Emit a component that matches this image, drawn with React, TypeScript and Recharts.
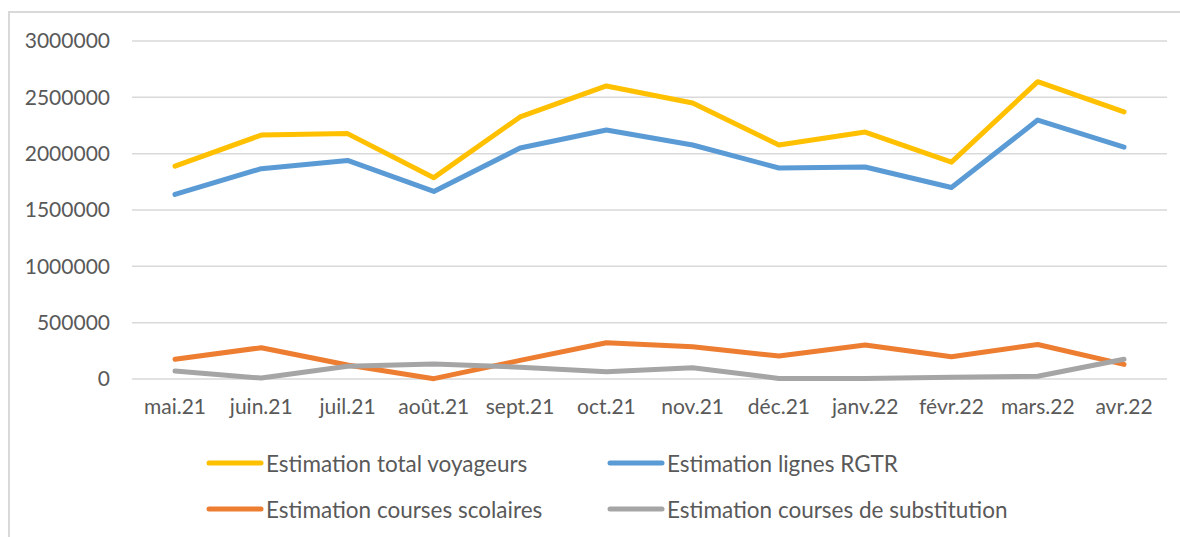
import { LineChart, Line, XAxis, YAxis, CartesianGrid } from "recharts"

const months = ["mai.21", "juin.21", "juil.21", "août.21", "sept.21", "oct.21", "nov.21", "déc.21", "janv.22", "févr.22", "mars.22", "avr.22"]

const totalVoyageurs = [1890000, 2165000, 2178000, 1787000, 2326000, 2601000, 2450000, 2077000, 2192000, 1925000, 2639000, 2370000]
const lignesRGTR = [1638000, 1867000, 1940000, 1665000, 2050000, 2210000, 2077000, 1873000, 1882000, 1700000, 2298000, 2058000]
const coursesScolaires = [175000, 278000, 124000, 3000, 165000, 322000, 287000, 204000, 302000, 198000, 306000, 130000]
const coursesSubstitution = [71000, 8000, 113000, 133000, 105000, 65000, 100000, 5000, 5000, 15000, 25000, 175000]

const yTicks = [0, 500000, 1000000, 1500000, 2000000, 2500000, 3000000]

const series = [
  { key: "total", name: "Estimation total voyageurs", color: "#FFC000", values: totalVoyageurs },
  { key: "rgtr", name: "Estimation lignes RGTR", color: "#5B9BD5", values: lignesRGTR },
  { key: "scolaires", name: "Estimation courses scolaires", color: "#ED7D31", values: coursesScolaires },
  { key: "substitution", name: "Estimation courses de substitution", color: "#A5A5A5", values: coursesSubstitution },
]

const data = months.map((m, i) => {
  const row: Record<string, string | number> = { month: m }
  series.forEach((s) => {
    row[s.key] = s.values[i]
  })
  return row
})

const FONT = "Lato, 'Open Sans', sans-serif"
const TEXT = "#595959"
const FONT_SIZE = 21

// legend laid out like Excel: 2 columns, 2 rows
function ExcelLegend() {
  const cols = [206, 607]
  const rows = [463, 509]
  return (
    <>
      {series.map((s, i) => (
        <div
          key={s.key}
          style={{
            position: "absolute",
            left: cols[i % 2],
            top: rows[Math.floor(i / 2)] - 14,
            height: 28,
            display: "flex",
            alignItems: "center",
            whiteSpace: "nowrap",
          }}
        >
          <svg width={58} height={8} style={{ display: "block" }}>
            <line x1={3} y1={4} x2={55} y2={4} stroke={s.color} strokeWidth={5} strokeLinecap="round" />
          </svg>
          <span style={{ fontFamily: FONT, fontSize: 22.5, color: TEXT, marginLeft: 2 }}>{s.name}</span>
        </div>
      ))}
    </>
  )
}

export default function App() {
  return (
    <div style={{ position: "absolute", left: 0, top: 0, width: 1180, height: 537, background: "#fff", overflow: "hidden" }}>
      <div
        style={{
          position: "absolute",
          left: 8,
          top: 11,
          width: 1180,
          height: 540,
          borderLeft: "2px solid #d9d9d9",
          borderTop: "2px solid #d9d9d9",
        }}
      />
      <LineChart
        width={1180}
        height={537}
        data={data}
        margin={{ top: 41, right: 13, bottom: 128, left: 0 }}
        style={{ position: "absolute", left: 0, top: 0 }}
      >
        <CartesianGrid vertical={false} stroke="#d9d9d9" strokeWidth={1.5} />
        <XAxis
          dataKey="month"
          height={30}
          axisLine={false}
          tickLine={false}
          tickMargin={14}
          interval={0}
          padding={{ left: 43, right: 43 }}
          tick={{ fill: TEXT, fontSize: FONT_SIZE, fontFamily: FONT }}
        />
        <YAxis
          width={132}
          domain={[0, 3000000]}
          ticks={yTicks}
          axisLine={false}
          tickLine={false}
          tickMargin={16}
          tick={{ fill: TEXT, fontSize: FONT_SIZE, fontFamily: FONT }}
        />
        {series.map((s) => (
          <Line
            key={s.key}
            type="linear"
            dataKey={s.key}
            name={s.name}
            stroke={s.color}
            strokeWidth={5}
            strokeLinecap="round"
            strokeLinejoin="round"
            dot={false}
            activeDot={false}
            isAnimationActive={false}
          />
        ))}
      </LineChart>
      <ExcelLegend />
    </div>
  )
}
